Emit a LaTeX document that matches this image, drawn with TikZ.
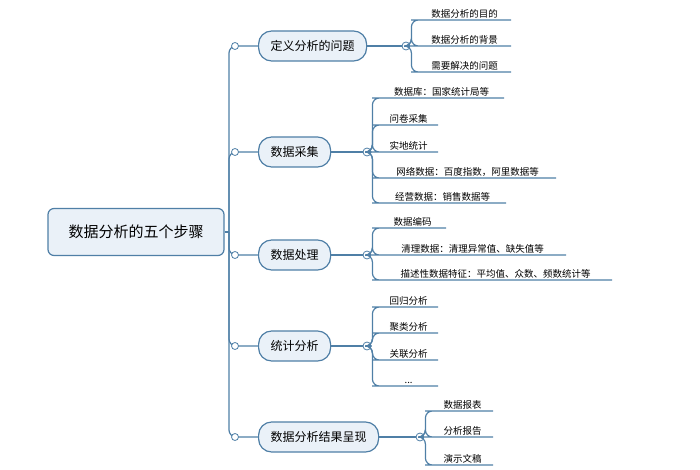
\documentclass[tikz,border=0pt]{standalone}
\usepackage{fontspec}
\setmainfont{Noto Sans CJK SC}
\usetikzlibrary{positioning}
\definecolor{edgeblue}{HTML}{4F7FA6}
\definecolor{boxfill}{HTML}{EAF1F8}
\begin{document}
\begin{tikzpicture}[x=1pt, y=-1pt, line width=1.2pt, draw=edgeblue,
  rootbox/.style={draw=edgeblue, fill=boxfill, rounded corners=6pt, minimum width=176pt, minimum height=47pt, font=\fontsize{15}{17}\selectfont},
  stepbox/.style={draw=edgeblue, fill=boxfill, rounded corners=13pt, minimum height=30pt, inner xsep=12pt, font=\fontsize{12}{14}\selectfont},
  leaf/.style={anchor=south west, inner xsep=3pt, inner ysep=2pt, text depth=0pt, font=\fontsize{9.5}{11}\selectfont, align=left},
  knob/.style={circle, draw=edgeblue, fill=white, line width=0.8pt, inner sep=0pt, minimum size=7pt},
  hub/.style={circle, draw=edgeblue, fill=white, line width=0.8pt, inner sep=0pt, minimum size=8pt, path picture={\draw[line width=0.6pt] ([xshift=-2pt]path picture bounding box.center) -- ([xshift=2pt]path picture bounding box.center);}},
  link/.style={draw=edgeblue, line width=1.2pt, rounded corners=7pt}]
\useasboundingbox (0,0) rectangle (700,470);
% root and steps
\node[rootbox] (root) at (136,232) {数据分析的五个步骤};
\coordinate (trunk) at (229,232);
\node[stepbox, anchor=west] (s1) at (258,46) {定义分析的问题};
\node[stepbox, anchor=west] (s2) at (258,152) {数据采集};
\node[stepbox, anchor=west] (s3) at (258,255) {数据处理};
\node[stepbox, anchor=west] (s4) at (258,346) {统计分析};
\node[stepbox, anchor=west] (s5) at (258,437) {数据分析结果呈现};
\draw[link] (root.east) -- (trunk);
\foreach \s in {s1,s2,s3,s4,s5}
  \draw[link] (trunk) |- (\s.west);
\foreach \s/\y in {s1/46,s2/152,s3/255,s4/346,s5/437}
  \node[knob] at (235,\y) {};
% hubs
\node[hub] (h1) at (406,46) {};
\node[hub] (h2) at (367,152) {};
\node[hub] (h3) at (367,255) {};
\node[hub] (h4) at (367,346) {};
\node[hub] (h5) at (420,437) {};
% leaves
\node[leaf, minimum width=92pt] (a1) at (418,20) {数据分析的目的};
\node[leaf, minimum width=92pt] (a2) at (418,46) {数据分析的背景};
\node[leaf, minimum width=92pt] (a3) at (418,72) {需要解决的问题};
\node[leaf, minimum width=124pt] (b1) at (379,98) {数据库：国家统计局等};
\node[leaf, minimum width=58pt] (b2) at (379,125) {问卷采集};
\node[leaf, minimum width=58pt] (b3) at (379,152) {实地统计};
\node[leaf, minimum width=176pt] (b4) at (379,178) {网络数据：百度指数，阿里数据等};
\node[leaf, minimum width=126pt] (b5) at (379,203) {经营数据：销售数据等};
\node[leaf, minimum width=66pt] (c1) at (379,228) {数据编码};
\node[leaf, minimum width=186pt] (c2) at (379,255) {清理数据：清理异常值、缺失值等};
\node[leaf, minimum width=232pt] (c3) at (379,280) {描述性数据特征：平均值、众数、频数统计等};
\node[leaf, minimum width=58pt] (d1) at (379,307) {回归分析};
\node[leaf, minimum width=58pt] (d2) at (379,333) {聚类分析};
\node[leaf, minimum width=58pt] (d3) at (379,360) {关联分析};
\node[leaf, minimum width=58pt] (d4) at (379,386) {...};
\node[leaf, minimum width=60pt] (e1) at (432,411) {数据报表};
\node[leaf, minimum width=60pt] (e2) at (432,437) {分析报告};
\node[leaf, minimum width=60pt] (e3) at (432,465) {演示文稿};
% connectors
\draw[link] (s1.east) -- (h1.west);
\draw[link] (s2.east) -- (h2.west);
\draw[link] (s3.east) -- (h3.west);
\draw[link] (s4.east) -- (h4.west);
\draw[link] (s5.east) -- (h5.west);
\foreach \h/\l in {h1/a1,h1/a2,h1/a3,h2/b1,h2/b2,h2/b3,h2/b4,h2/b5,h3/c1,h3/c2,h3/c3,h4/d1,h4/d2,h4/d3,h4/d4,h5/e1,h5/e2,h5/e3}
  \draw[link] (\h.east) -- ++(1,0) |- (\l.south west) -- (\l.south east);
\end{tikzpicture}
\end{document}
